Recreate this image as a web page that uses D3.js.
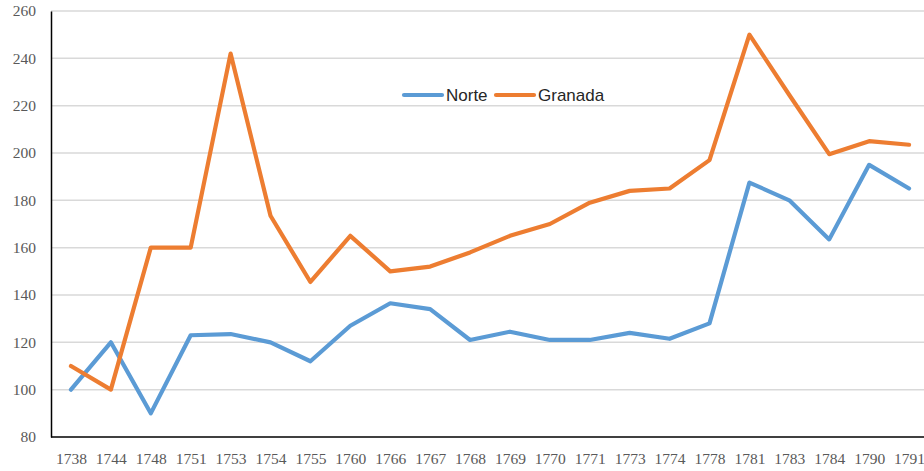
<!DOCTYPE html>
<html>
<head>
<meta charset="UTF-8">
<title>Norte / Granada</title>
<style>
body { margin: 0; background: #fff; }
.tick text { font-family: "Liberation Serif", "Times New Roman", serif; font-size: 15.5px; fill: #595959; }
.legend text { font-family: "Liberation Sans", Arial, sans-serif; font-size: 17px; fill: #262626; }
</style>
</head>
<body>
<svg width="924" height="471"></svg>
<script src="https://cdn.jsdelivr.net/npm/d3@7"></script>
<script>
var years = ["1738","1744","1748","1751","1753","1754","1755","1760","1766","1767","1768",
             "1769","1770","1771","1773","1774","1778","1781","1783","1784","1790","1791"];
var norte = [100,120,90,123,123.5,120,112,127,136.5,134,121,124.5,121,121,124,121.5,128,187.5,180,163.5,195,185];
var granada = [110,100,160,160,242,173.5,145.5,165,150,152,158,165,170,179,184,185,197,250,224.5,199.5,205,203.5];
var yTicks = [80,100,120,140,160,180,200,220,240,260];
var seriesNames = ["Norte","Granada"];
var colors = ["#5b9bd5","#ed7d31"];

var plotLeft = 51, plotRight = 929, plotTop = 11, plotBottom = 437;

var svg = d3.select("svg");

var x = d3.scalePoint().domain(years).range([plotLeft, plotRight]).padding(0.5);
var y = d3.scaleLinear().domain([80, 260]).range([plotBottom, plotTop]);

// grid
svg.append("g").selectAll("line").data(yTicks.slice(1)).enter().append("line")
	.attr("x1", plotLeft).attr("x2", 924)
	.attr("y1", function(d) { return y(d); }).attr("y2", function(d) { return y(d); })
	.attr("stroke", "#d9d9d9").attr("stroke-width", 1.5);

var yAxis = svg.append("g").attr("transform", "translate(" + plotLeft + ",0)")
	.call(d3.axisLeft(y).tickValues(yTicks).tickSize(0).tickPadding(15));
yAxis.select(".domain").attr("stroke", "#000").attr("stroke-width", 1.5);

var xAxis = svg.append("g").attr("transform", "translate(0," + plotBottom + ")")
	.call(d3.axisBottom(x).tickSize(0).tickPadding(16));
xAxis.select(".domain").remove();
svg.append("line").attr("x1", plotLeft).attr("x2", 924).attr("y1", plotBottom).attr("y2", plotBottom)
	.attr("stroke", "#000").attr("stroke-width", 1.5);

var line = d3.line().x(function(d, i) { return x(years[i]); }).y(function(d) { return y(d); });

[norte, granada].forEach(function(s, k) {
	svg.append("path").datum(s).attr("d", line)
		.attr("fill", "none").attr("stroke", colors[k]).attr("stroke-width", 4.2)
		.attr("stroke-linejoin", "round").attr("stroke-linecap", "round");
});

// legend
var legend = svg.append("g").attr("class", "legend");
var lx = [404, 496];
seriesNames.forEach(function(n, k) {
	legend.append("line").attr("x1", lx[k]).attr("x2", lx[k] + 38).attr("y1", 95).attr("y2", 95)
		.attr("stroke", colors[k]).attr("stroke-width", 4.2).attr("stroke-linecap", "round");
	legend.append("text").attr("x", lx[k] + 42).attr("y", 101).text(n);
});
</script>
</body>
</html>
